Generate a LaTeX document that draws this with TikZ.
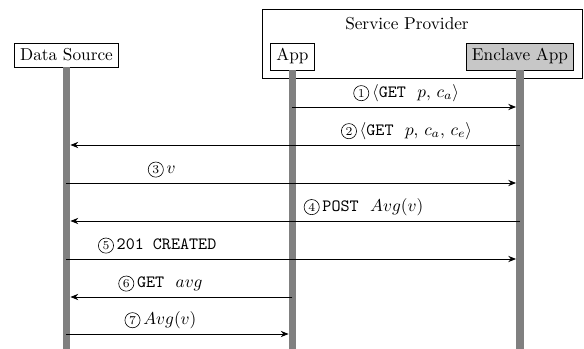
\documentclass[tikz,border=0pt]{standalone}
\usetikzlibrary{arrows.meta,positioning,fit}
\newcommand{\stepno}[1]{\tikz[baseline=(num.base)]\node[circle, draw, anchor=center, inner sep=0pt, minimum size=8.8pt, line width=0.35pt, font=\scriptsize] (num) {#1};\,}

\begin{document}
\begin{tikzpicture}[
  x=0.58pt, y=-0.58pt,
  actor/.style={draw, anchor=base, inner sep=3.3pt},
  life/.style={line width=4.6pt, draw=black!50},
  msg/.style={-{Stealth[length=4.5pt, width=3.6pt]}, line width=0.5pt, shorten >=2.3pt},
  lbl/.style={above, inner sep=3pt}
]
\useasboundingbox (0,0) rectangle (584,349);
% actors
\node[actor] (ds) at (66.5,61) {Data Source};
\node[actor] (app) at (292.5,61) {App};
\node[actor, fill=black!22] (enc) at (520,61) {Enclave App};
\node[anchor=base, inner sep=0pt] (sptitle) at (407,30) {Service Provider};
\node[draw, inner sep=4.6pt, fit=(sptitle)(app)(enc)] (sp) {};
% lifelines
\coordinate (bottom) at (0,349);
\draw[life] (ds.south) -- (ds.south |- bottom);
\draw[life] (app.south) -- (app.south |- bottom);
\draw[life] (enc.south) -- (enc.south |- bottom);
% message rows
\foreach \n/\y in {1/107, 2/145, 3/183, 4/221, 5/259, 6/297, 7/334}
  \coordinate (r\n) at (0,\y);
% messages
\draw[msg] (app |- r1) -- node[lbl, pos=0.5] {\stepno{1}$\langle$\texttt{GET}\ \ $p$, $c_a\rangle$} (enc |- r1);
\draw[msg] (enc |- r2) -- node[lbl, pos=0.25] {\stepno{2}$\langle$\texttt{GET}\ \ $p$, $c_a$, $c_e\rangle$} (ds |- r2);
\draw[msg] (ds |- r3) -- node[lbl, pos=0.21] {\stepno{3}$v$} (enc |- r3);
\draw[msg] (enc |- r4) -- node[lbl, pos=0.345] {\stepno{4}\texttt{POST}\ \ $Avg(v)$} (ds |- r4);
\draw[msg] (ds |- r5) -- node[lbl, pos=0.2] {\stepno{5}\texttt{201 CREATED}} (enc |- r5);
\draw[msg] (app |- r6) -- node[lbl, pos=0.584] {\stepno{6}\texttt{GET}\ \ $avg$} (ds |- r6);
\draw[msg] (ds |- r7) -- node[lbl, pos=0.416] {\stepno{7}$Avg(v)$} (app |- r7);
\end{tikzpicture}
\end{document}
